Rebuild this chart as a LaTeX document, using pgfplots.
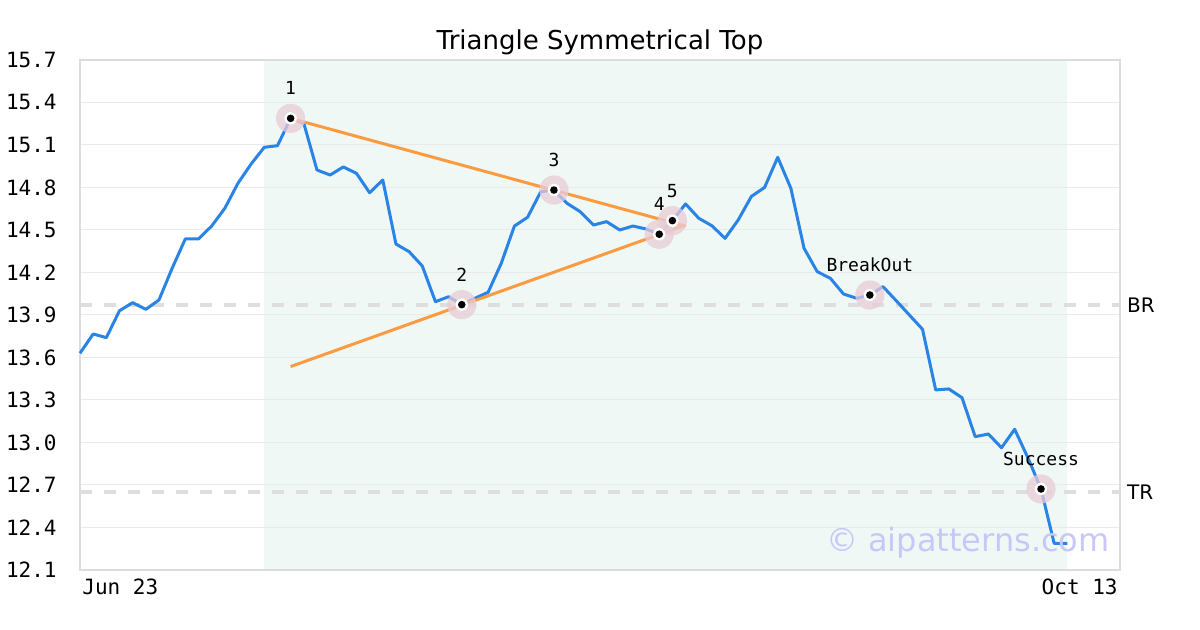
\documentclass[border=0pt]{standalone}
\usepackage{pgfplots}
\pgfplotsset{compat=1.18}
\usepackage{pgfplotstable}
\usepackage{fontspec}
\setmainfont{DejaVu Sans}
\newfontfamily\mono{DejaVu Sans Mono}
\definecolor{blueline}{RGB}{42,132,230}
\definecolor{orangeline}{RGB}{250,155,65}
\definecolor{shade}{RGB}{240,248,245}
\definecolor{framec}{RGB}{220,220,220}
\definecolor{gridc}{RGB}{234,234,234}
\definecolor{dashc}{RGB}{222,222,222}
\definecolor{halo}{RGB}{232,204,214}
\definecolor{wm}{RGB}{200,200,248}

\pgfplotstableread{
x y
0 13.630
1 13.766
2 13.740
3 13.930
4 13.987
5 13.940
6 14.006
7 14.230
8 14.437
9 14.437
10 14.528
11 14.653
12 14.830
13 14.966
14 15.084
15 15.095
16 15.288
17 15.253
18 14.924
19 14.888
20 14.945
21 14.900
22 14.763
23 14.853
24 14.401
25 14.347
26 14.246
27 13.994
28 14.029
29 13.973
30 14.018
31 14.060
32 14.265
33 14.528
34 14.590
35 14.770
36 14.782
37 14.688
38 14.629
39 14.535
40 14.559
41 14.500
42 14.528
43 14.507
44 14.470
45 14.566
46 14.684
47 14.583
48 14.530
49 14.441
50 14.571
51 14.737
52 14.800
53 15.013
54 14.794
55 14.371
56 14.206
57 14.159
58 14.048
59 14.018
60 14.041
61 14.100
62 14.001
63 13.900
64 13.799
65 13.371
66 13.378
67 13.316
68 13.041
69 13.060
70 12.963
71 13.093
72 12.893
73 12.672
74 12.288
75 12.288
}\price

\pgfplotstableread{
x y lab
16 15.288 1
29 13.973 2
36 14.782 3
44 14.470 4
45 14.566 5
60 14.041 BreakOut
73 12.672 Success
}\pts

\begin{document}
\begin{tikzpicture}
\begin{axis}[
  set layers, clip=false,
  scale only axis, width=520pt, height=255pt,
  xmin=0, xmax=79, ymin=12.1, ymax=15.7,
  xtick=\empty,
  ytick={12.1,12.4,12.7,13.0,13.3,13.6,13.9,14.2,14.5,14.8,15.1,15.4,15.7},
  ymajorgrids,
  major grid style={gridc, line width=0.5pt},
  axis line style={framec, line width=1pt},
  major tick length=0pt,
  tick style={draw=none},
  yticklabel style={font=\mono\fontsize{10.5}{12}\selectfont, anchor=east, inner sep=0pt, xshift=-11.5pt},
  yticklabel={\pgfmathprintnumber[fixed,fixed zerofill,precision=1,assume math mode=true]{\tick}},
]
\addplot[draw=none, fill=shade, on layer=axis background] coordinates {(14,12.1) (14,15.7) (75,15.7) (75,12.1)};

\addplot[dashc, line width=2pt, dash pattern=on 6pt off 6pt] coordinates {(0,13.971) (79,13.971)};
\addplot[dashc, line width=2pt, dash pattern=on 6pt off 6pt] coordinates {(0,12.651) (79,12.651)};

\addplot[blueline, line width=1.5pt, line join=round] table[x=x,y=y]{\price};

\addplot[orangeline, line width=1.5pt] coordinates {(16,15.288) (46,14.527)};
\addplot[orangeline, line width=1.5pt] coordinates {(16,13.536) (46,14.535)};

\addplot[only marks, mark=*, color=halo, mark size=7.3pt, mark options={draw=none, fill=halo, fill opacity=0.75, draw opacity=0}] table[x=x,y=y]{\pts};
\addplot[only marks, mark=*, color=white, mark size=3.1pt, mark options={draw opacity=0, fill=white}] table[x=x,y=y]{\pts};
\addplot[only marks, mark=*, color=black, mark size=1.9pt, mark options={draw opacity=0, fill=black},
  point meta=explicit symbolic, nodes near coords,
  every node near coord/.append style={font=\mono\fontsize{9}{10}\selectfont, anchor=center, yshift=15pt, text=black}]
  table[x=x,y=y,meta=lab]{\pts};

\node[anchor=west, font=\fontsize{10}{12}\selectfont] at (axis cs:79,13.971) {BR};
\node[anchor=west, font=\fontsize{10}{12}\selectfont] at (axis cs:79,12.651) {TR};

\node[anchor=base east, inner sep=0pt, text=wm, font=\fontsize{16}{18}\selectfont, xshift=-5pt, yshift=9pt] at (rel axis cs:1,0) {© aipatterns.com};

\node[anchor=base, inner sep=0pt, font=\fontsize{13}{15}\selectfont, yshift=5pt] at (rel axis cs:0.5,1) {Triangle Symmetrical Top};

\node[anchor=base west, inner sep=0pt, font=\mono\fontsize{10.5}{12}\selectfont, xshift=1pt, yshift=-12.5pt] at (rel axis cs:0,0) {Jun 23};
\node[anchor=base east, inner sep=0pt, font=\mono\fontsize{10.5}{12}\selectfont, xshift=-1pt, yshift=-12.5pt] at (rel axis cs:1,0) {Oct 13};
\end{axis}
\path (-40pt,-30pt) rectangle (560pt,285pt);
\end{tikzpicture}
\end{document}
